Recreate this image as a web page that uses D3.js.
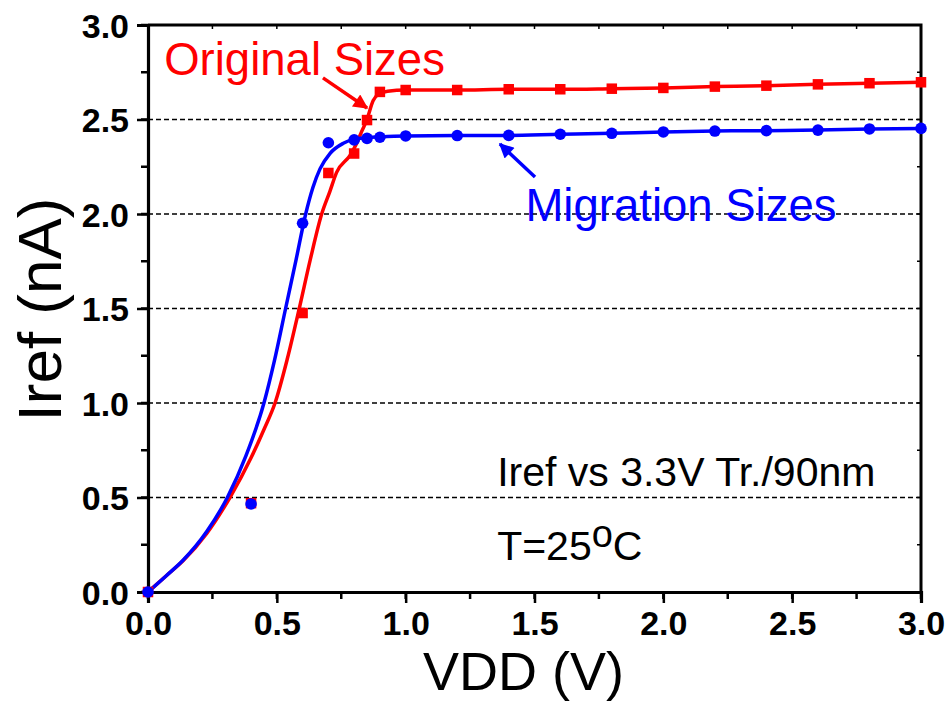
<!DOCTYPE html>
<html><head><meta charset="utf-8">
<script src="https://cdn.jsdelivr.net/npm/d3@7"></script>
<style>html,body{margin:0;padding:0;background:#fff;}svg{display:block;}</style>
</head><body>
<svg id="chart" width="950" height="706"></svg>
<script>
// ---- data ----
const xTickValues = [0, 0.5, 1.0, 1.5, 2.0, 2.5, 3.0];
const yTickValues = [0, 0.5, 1.0, 1.5, 2.0, 2.5, 3.0];
const gridValues = [0.5, 1.0, 1.5, 2.0, 2.5];
const voltages = [0, 0.4, 0.6, 0.7, 0.8, 0.85, 0.9, 1.0, 1.2, 1.4, 1.6, 1.8, 2.0, 2.2, 2.4, 2.6, 2.8, 3.0];
const originalSizes = [0, 0.47, 1.476, 2.217, 2.32, 2.497, 2.646, 2.656, 2.656, 2.66, 2.66, 2.663, 2.667, 2.674, 2.679, 2.686, 2.692, 2.697];
const migrationSizes = [0, 0.466, 1.951, 2.377, 2.392, 2.40, 2.406, 2.413, 2.415, 2.416, 2.422, 2.427, 2.434, 2.439, 2.441, 2.444, 2.45, 2.453];
// fitted curves
const fitOrigV = [0, 0.07, 0.136, 0.228, 0.318, 0.40, 0.45, 0.493, 0.54, 0.587, 0.63, 0.674, 0.706, 0.732, 0.784, 0.81, 0.829, 0.849, 0.874, 0.895, 0.93, 1.0, 1.2, 1.4, 1.6, 1.8, 2.0, 2.2, 2.4, 2.6, 2.8, 3.0];
const fitOrigI = [0, 0.085, 0.165, 0.31, 0.5, 0.71, 0.86, 1.0, 1.23, 1.5, 1.76, 2.0, 2.12, 2.22, 2.31, 2.374, 2.436, 2.497, 2.6, 2.635, 2.65, 2.656, 2.656, 2.66, 2.66, 2.663, 2.667, 2.674, 2.679, 2.686, 2.692, 2.697];
const fitMigV = [0, 0.07, 0.136, 0.228, 0.308, 0.38, 0.45, 0.49, 0.534, 0.575, 0.612, 0.64, 0.668, 0.706, 0.758, 0.797, 0.85, 0.9, 1.0, 1.2, 1.4, 1.6, 1.8, 2.0, 2.2, 2.4, 2.6, 2.8, 3.0];
const fitMigI = [0, 0.085, 0.168, 0.32, 0.5, 0.72, 1.0, 1.22, 1.5, 1.76, 2.0, 2.14, 2.24, 2.32, 2.374, 2.395, 2.404, 2.408, 2.413, 2.415, 2.416, 2.422, 2.427, 2.434, 2.439, 2.441, 2.444, 2.45, 2.453];

const RED = "#ff0000", BLUE = "#0000ff";
const FONT = "'Liberation Sans', Arial, sans-serif";

// ---- layout ----
const svg = d3.select("#chart");
const L = 148, R = 921, T = 25, B = 592;
const x = d3.scaleLinear().domain([0, 3]).range([L, R]);
const y = d3.scaleLinear().domain([0, 3]).range([B, T]);

const defs = svg.append("defs");
function arrowMarker(id, color) {
  defs.append("marker").attr("id", id).attr("viewBox", "0 0 10 10")
    .attr("refX", 9).attr("refY", 5).attr("markerWidth", 5).attr("markerHeight", 4.2)
    .attr("orient", "auto").attr("markerUnits", "strokeWidth")
    .append("path").attr("d", "M0,0 L10,5 L0,10 Z").attr("fill", color);
}
arrowMarker("arrRed", RED);
arrowMarker("arrBlue", BLUE);

// grid
svg.append("g").selectAll("line").data(gridValues).join("line")
  .attr("x1", L).attr("x2", R).attr("y1", d => y(d)).attr("y2", d => y(d))
  .attr("stroke", "#000").attr("stroke-width", 1.6).attr("stroke-dasharray", "5,3");

// axes
const minorTicks = d3.range(0, 3.0001, 0.25);
const xAxis = d3.axisBottom(x).tickValues(xTickValues).tickFormat(d3.format(".1f")).tickSize(11).tickPadding(8);
const yAxis = d3.axisLeft(y).tickValues(yTickValues).tickFormat(d3.format(".1f")).tickSize(11).tickPadding(8);

const gx = svg.append("g").attr("transform", `translate(0,${B})`);
gx.selectAll("line.minor").data(minorTicks).join("line").attr("class", "minor")
  .attr("x1", d => x(d)).attr("x2", d => x(d)).attr("y1", 0).attr("y2", 7)
  .attr("stroke", "#000").attr("stroke-width", 2.5);
gx.call(xAxis);
const gy = svg.append("g").attr("transform", `translate(${L},0)`);
gy.selectAll("line.minor").data(minorTicks).join("line").attr("class", "minor")
  .attr("y1", d => y(d)).attr("y2", d => y(d)).attr("x1", 0).attr("x2", -7)
  .attr("stroke", "#000").attr("stroke-width", 2.5);
gy.call(yAxis);

// top / right spines with inward ticks
const gt = svg.append("g");
gt.selectAll("line").data(minorTicks).join("line")
  .attr("x1", d => x(d)).attr("x2", d => x(d)).attr("y1", T).attr("y2", T + 4)
  .attr("stroke", "#000").attr("stroke-width", 1.5);
const gr = svg.append("g");
gr.selectAll("line").data(minorTicks).join("line")
  .attr("y1", d => y(d)).attr("y2", d => y(d)).attr("x1", R).attr("x2", R - 4)
  .attr("stroke", "#000").attr("stroke-width", 1.5);
svg.append("path").attr("d", `M${L},${T} H${R} V${B}`).attr("fill", "none")
  .attr("stroke", "#000").attr("stroke-width", 3);

[gx, gy].forEach(g => {
  g.select(".domain").attr("stroke-width", 3.2);
  g.selectAll(".tick line").attr("stroke-width", 2.5);
  g.selectAll(".tick text").attr("font-family", FONT).attr("font-size", 34)
    .attr("font-weight", "bold").attr("fill", "#000");
});
gy.selectAll(".tick text").attr("dy", "0.36em");

// axis titles
svg.append("text").attr("x", x(1.5) - 11).attr("y", 690).attr("text-anchor", "middle")
  .attr("font-family", FONT).attr("font-size", 54).text("VDD (V)");
svg.append("text").attr("transform", `translate(61,${y(1.5) + 1}) rotate(-90)`).attr("text-anchor", "middle")
  .attr("font-family", FONT).attr("font-size", 62).text("Iref (nA)");

// fitted curves
const line = d3.line().x(d => x(d[0])).y(d => y(d[1])).curve(d3.curveMonotoneX);
svg.append("path").datum(d3.zip(fitOrigV, fitOrigI)).attr("d", line)
  .attr("fill", "none").attr("stroke", RED).attr("stroke-width", 3.5);
svg.append("path").datum(d3.zip(fitMigV, fitMigI)).attr("d", line)
  .attr("fill", "none").attr("stroke", BLUE).attr("stroke-width", 3.5);

// markers
const sq = 10.5;
svg.append("g").selectAll("rect").data(d3.zip(voltages, originalSizes)).join("rect")
  .attr("x", d => x(d[0]) - sq / 2).attr("y", d => y(d[1]) - sq / 2)
  .attr("width", sq).attr("height", sq).attr("fill", RED);
svg.append("g").selectAll("circle").data(d3.zip(voltages, migrationSizes)).join("circle")
  .attr("cx", d => x(d[0])).attr("cy", d => y(d[1])).attr("r", 5.8).attr("fill", BLUE);

// annotations
svg.append("text").attr("x", x(0.063)).attr("y", y(2.735)).attr("font-family", FONT)
  .attr("font-size", 45.5).attr("fill", RED).text("Original Sizes");
svg.append("line").attr("x1", x(0.679)).attr("y1", y(2.72)).attr("x2", x(0.85)).attr("y2", y(2.561))
  .attr("stroke", RED).attr("stroke-width", 3.5).attr("marker-end", "url(#arrRed)");
svg.append("text").attr("x", x(1.465)).attr("y", y(1.963)).attr("font-family", FONT)
  .attr("font-size", 45.5).attr("fill", BLUE).text("Migration Sizes");
svg.append("line").attr("x1", x(1.502)).attr("y1", y(2.196)).attr("x2", x(1.366)).attr("y2", y(2.37))
  .attr("stroke", BLUE).attr("stroke-width", 3.5).attr("marker-end", "url(#arrBlue)");

svg.append("text").attr("x", x(1.355)).attr("y", y(0.56)).attr("font-family", FONT)
  .attr("font-size", 41).attr("fill", "#000").text("Iref vs 3.3V Tr./90nm");
const t2 = svg.append("text").attr("x", x(1.355)).attr("y", y(0.17)).attr("font-family", FONT)
  .attr("font-size", 41).attr("fill", "#000");
t2.append("tspan").text("T=25");
t2.append("tspan").attr("dy", -13).attr("font-size", 38).text("o");
t2.append("tspan").attr("dy", 13).text("C");
</script>
</body></html>
